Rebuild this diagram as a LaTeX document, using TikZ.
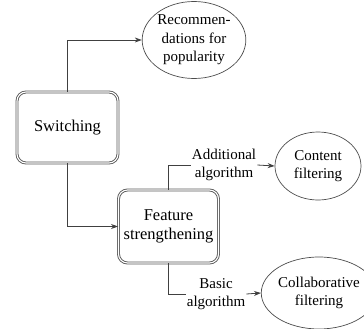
\documentclass[tikz,border=0pt]{standalone}
\usepackage{fontspec}
\setmainfont{Liberation Serif}
\usepackage{tikz}
\usetikzlibrary{arrows.meta, shapes, positioning, calc}
\tikzset{
         mybox/.style={draw=black!65, double=white, double distance=1.1pt, line width=0.9pt, rounded corners=9pt, minimum height=71pt, minimum width=101pt, align=center, font=\fontsize{16.5}{19.5}\selectfont},
         myellipse/.style={draw=black!70, ellipse, line width=0.7pt, inner sep=0pt, align=center, font=\fontsize{15}{18.5}\selectfont},
         mylabel/.style={draw=none, inner sep=1pt, align=center, font=\fontsize{15}{18}\selectfont}
      }
\begin{document}
\begin{tikzpicture}[x=1pt,y=-1pt,>={Stealth[length=7pt,width=5pt]},auto]
                  \tikzstyle{line} = [draw=black!75, line width=0.8pt]
                     \useasboundingbox (0,0) rectangle (364,329);
                     \node[mybox] (switch) at (67.5,127.5) {Switching};
                     \node[mybox, minimum width=100pt, minimum height=73pt] (feat) at (168.5,226.5) {Feature\\strengthening};
                     \node[myellipse, minimum width=102pt, minimum height=77pt] (rec) at (194,40) {Recommen-\\dations for\\popularity};
                     \node[myellipse, minimum width=86pt, minimum height=68pt] (cont) at (318,166) {Content\\filtering};
                     \node[myellipse, minimum width=94pt, minimum height=72pt] (coll) at (319,293) {Collaborative\\filtering};
                     \node[mylabel] (add) at (224,165) {Additional\\algorithm};
                     \node[mylabel] (basic) at (216,294) {Basic\\algorithm};
                     \path [line, ->] (switch.north) |- (rec.west);
                     \path [line, ->] (switch.south) |- (feat.west);
                     \path [line] (feat.north) |- (add.west);
                     \path [line, ->] (add.east) -- (cont.west);
                     \path [line] (feat.south) |- (basic.west);
                     \path [line, ->] (basic.east) -- (coll.west);
               \end{tikzpicture}
\end{document}
